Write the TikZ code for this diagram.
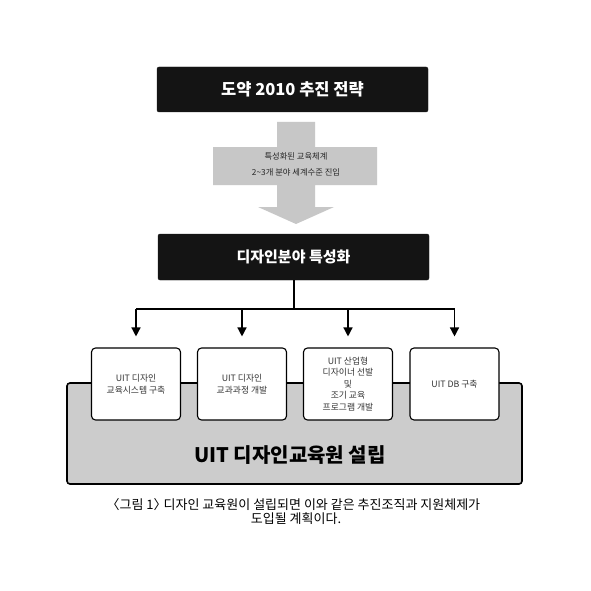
\documentclass[tikz,border=0pt]{standalone}
\usepackage{fontspec}
\setmainfont{Noto Sans CJK KR}
\usetikzlibrary{arrows.meta}
\tikzset{
  blackbox/.style={draw=black!90, fill=black!92, rounded corners=2pt, minimum width=271pt, minimum height=45pt, text=white, font=\fontsize{15}{18}\selectfont\bfseries, inner sep=0pt},
  whitebox/.style={draw=black, line width=1.1pt, fill=white, rounded corners=4pt, minimum width=89pt, minimum height=72pt, align=center, text=black!80, font=\fontsize{8.8}{11.5}\selectfont, inner sep=0pt},
  conn/.style={draw=black, line width=1.4pt},
  arr/.style={conn, -{Triangle[width=9pt,length=9pt]}},
  graybg/.style={fill=black!20, draw=black, line width=1.6pt, rounded corners=3pt},
  grayarrow/.style={fill=black!22, draw=none}
}
\begin{document}
\begin{tikzpicture}[x=1pt,y=-1pt]
\useasboundingbox[fill=white] (0,0) rectangle (591,591);
% big gray base
\draw[graybg] (67,383) rectangle (522,484);
% gray arrow
\fill[grayarrow] (277,122) -- (315,122) -- (315,147) -- (377,147) -- (377,185) -- (315,185) -- (315,207) -- (334,207) -- (296,224) -- (258,207) -- (277,207) -- (277,185) -- (213,185) -- (213,147) -- (277,147) -- cycle;
\node[align=center, font=\fontsize{8.3}{16}\selectfont, text=black!85] (arrtxt) at (296,164.5) {특성화된 교육체계\\2{\char`\~}3개 분야 세계수준 진입};
% black boxes
\node[blackbox, font=\fontsize{16.5}{18}\selectfont\bfseries] (top) at (292.5,89.5) {도약 2010 추진 전략};
\node[blackbox, minimum height=46pt] (mid) at (293.5,257) {디자인분야 특성화};
% white boxes
\node[whitebox] (b1) at (136,384) {UIT 디자인\\교육시스템 구축};
\node[whitebox] (b2) at (242,384) {UIT 디자인\\교과과정 개발};
\node[whitebox] (b3) at (348,384) {UIT 산업형\\디자이너 선발\\및\\조기 교육\\프로그램 개발};
\node[whitebox] (b4) at (454.5,384) {UIT DB 구축};
% connectors
\coordinate (hub) at (294,309);
\draw[conn] (mid.south -| hub) -- (hub);
\draw[conn] (b1.north |- hub) -- (b4.north |- hub);
\draw[arr] (b1.north |- hub) -- ([yshift=11pt]b1.north);
\draw[arr] (b2.north |- hub) -- ([yshift=11pt]b2.north);
\draw[arr] (b3.north |- hub) -- ([yshift=11pt]b3.north);
\draw[arr] (b4.north |- hub) -- ([yshift=11pt]b4.north);
% big label
\node[font=\fontsize{20}{24}\selectfont\bfseries] (big) at (290,455) {UIT 디자인교육원 설립};
% caption
\node[align=center, font=\fontsize{13}{14}\selectfont] (cap) at (296,511.5) {\kern-0.4em〈그림 1〉\kern-0.45em\ 디자인 교육원이 설립되면 이와 같은 추진조직과 지원체제가\\도입될 계획이다.};
\end{tikzpicture}
\end{document}
